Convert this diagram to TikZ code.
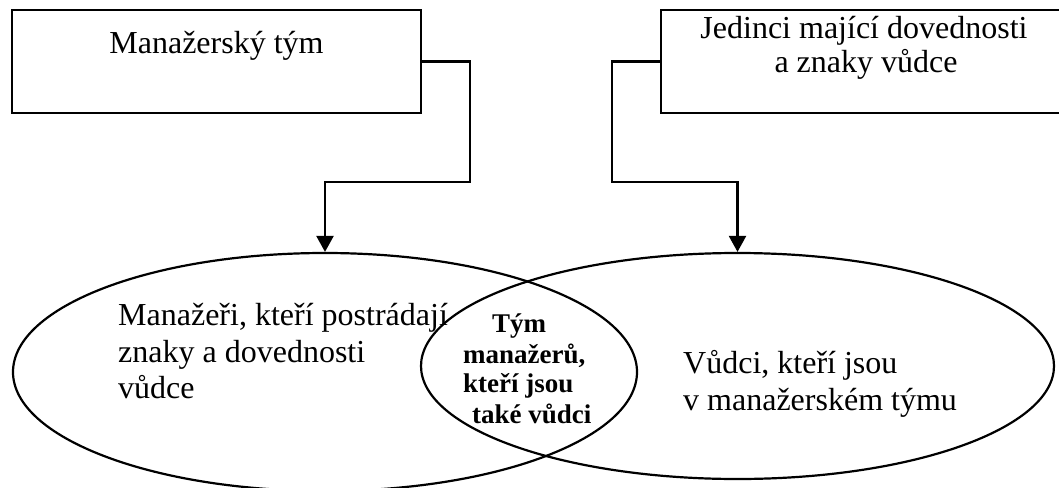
\documentclass[tikz,border=0pt]{standalone}
\usepackage{fontspec}
\setmainfont{Liberation Serif}
\usetikzlibrary{shapes.geometric,arrows.meta}
\tikzset{
  boxnode/.style={draw,line width=2.6pt,minimum width=#1,minimum height=103pt,inner sep=0pt},
  venn/.style={draw,ellipse,line width=2.2pt,inner sep=0pt},
  arr/.style={line width=2.3pt,-{Triangle[length=16pt,width=17pt]}},
  reg/.style={anchor=base west,inner sep=0pt,font=\fontsize{32}{38}\selectfont},
  regc/.style={anchor=base,inner sep=0pt,font=\fontsize{32}{38}\selectfont},
  bld/.style={anchor=base west,inner sep=0pt,font=\fontsize{27}{31}\selectfont\bfseries}
}
\begin{document}
\begin{tikzpicture}[x=1pt,y=-1pt]
\useasboundingbox (0,0) rectangle (1059,487);
\begin{scope}
\clip (0,0) rectangle (1059,487);
% boxes
\node[boxnode=409pt] (mb) at (216.5,61.5) {};
\node[boxnode=401pt] (jb) at (861.5,61.5) {};
% ellipses
\node[venn,minimum width=624pt,minimum height=238pt] (le) at (325,372) {};
\node[venn,minimum width=633pt,minimum height=226pt] (re) at (737.5,366) {};
\end{scope}
% box texts
\node[regc] (mt) at (216.5,53) {Manažerský tým};
\node[regc] (jt1) at (864,39) {Jedinci mající dovednosti};
\node[regc] (jt2) at (866,72) {a znaky vůdce};
% connectors
\draw[arr] (mb.east) -- ++(48,0) |- ([yshift=70pt]le.north) -- (le.north);
\draw[arr] (jb.west) -- ++(-48,0) |- ([yshift=70pt]re.north) -- (re.north);
% left ellipse text
\node[reg] (l1) at (118,325) {Manažeři, kteří postrádají};
\node[reg] (l2) at (118,362) {znaky a dovednosti};
\node[reg] (l3) at (118,398) {vůdce};
% right ellipse text
\node[reg] (r1) at (683,373) {Vůdci, kteří jsou};
\node[reg] (r2) at (683,410) {v manažerském týmu};
% intersection text
\node[bld] (c1) at (492,332) {Tým};
\node[bld] (c2) at (463,363) {manažerů,};
\node[bld] (c3) at (463,392) {kteří jsou};
\node[bld] (c4) at (472,423) {také vůdci};
\end{tikzpicture}
\end{document}
